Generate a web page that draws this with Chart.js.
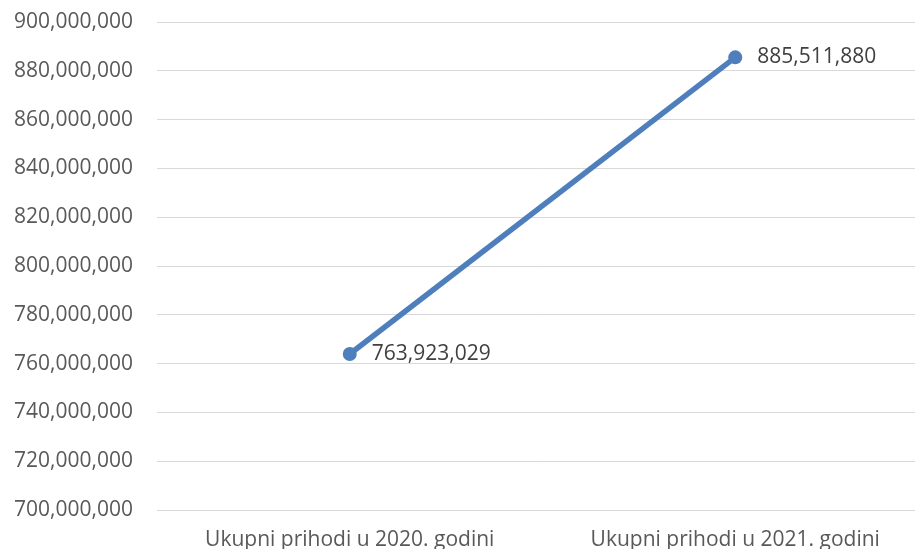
<!DOCTYPE html>
<html>
<head>
<meta charset="utf-8">
<script src="https://cdn.jsdelivr.net/npm/chart.js@4"></script>
<style>
  html, body { margin: 0; padding: 0; background: #fff; overflow: hidden; }
  #wrap { width: 935px; height: 549px; }
</style>
</head>
<body>
<div id="wrap"><canvas id="revenueChart" width="935" height="549"></canvas></div>
<script>
  // chart data
  let categories = ['Ukupni prihodi u 2020. godini', 'Ukupni prihodi u 2021. godini'];
  let revenue = [763923029, 885511880];
  let yMin = 700000000;
  let yMax = 900000000;
  let yStep = 20000000;

  let fontFamily = '"Open Sans", sans-serif';
  let lineColor = '#4e7fbc';

  function fmt(v) {
    return Math.round(v).toLocaleString('en-US');
  }

  /**************Value labels next to points**************/
  let valueLabels = {
    id: 'valueLabels',
    afterDatasetsDraw(chart) {
      let ctx = chart.ctx;
      let meta = chart.getDatasetMeta(0);
      ctx.save();
      ctx.font = '21px ' + fontFamily;
      ctx.fillStyle = '#404040';
      ctx.textAlign = 'left';
      ctx.textBaseline = 'middle';
      meta.data.forEach((pt, i) => {
        ctx.fillText(fmt(revenue[i]), pt.x + 22, pt.y);
      });
      ctx.restore();
    }
  };

  let ctx = document.getElementById('revenueChart').getContext('2d');
  let myChart = new Chart(ctx, {
    type: 'line',
    data: {
      labels: categories,
      datasets: [{
        data: revenue,
        borderColor: lineColor,
        backgroundColor: lineColor,
        borderWidth: 5.5,
        pointRadius: 7,
        pointHoverRadius: 7,
        pointBackgroundColor: lineColor,
        pointBorderColor: lineColor,
        pointBorderWidth: 0,
        tension: 0
      }]
    },
    options: {
      responsive: false,
      animation: false,
      layout: { padding: { top: 22, right: 0, bottom: 0, left: 0 } },
      plugins: {
        legend: { display: false },
        tooltip: { enabled: false }
      },
      scales: {
        x: {
          offset: true,
          grid: { display: false, drawTicks: false },
          border: { display: false },
          ticks: {
            color: '#595959',
            font: { family: fontFamily, size: 21 },
            padding: 17,
            maxRotation: 0
          },
          afterFit: (scale) => { scale.height = 39; }
        },
        y: {
          min: yMin,
          max: yMax,
          grid: { color: '#d9d9d9', lineWidth: 1, drawTicks: false },
          border: { display: false },
          ticks: {
            stepSize: yStep,
            color: '#595959',
            font: { family: fontFamily, size: 21 },
            padding: 24,
            callback: (v) => fmt(v)
          },
          afterFit: (scale) => {
            scale.width = 157;
            scale.paddingTop = 0;
            scale.paddingBottom = 0;
          }
        }
      }
    },
    plugins: [valueLabels]
  });
</script>
</body>
</html>
